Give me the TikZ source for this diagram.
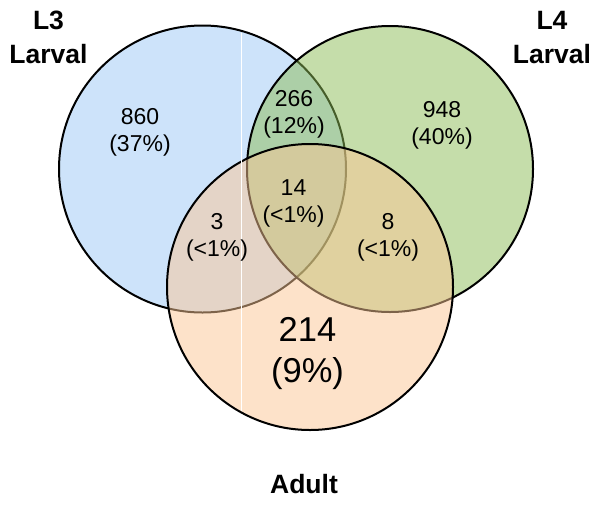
\documentclass[tikz,border=0pt]{standalone}
\usepackage{fontspec}
\setmainfont{Liberation Sans}
\definecolor{cblue}{RGB}{155,200,245}
\definecolor{cgreen}{RGB}{140,187,85}
\definecolor{corange}{RGB}{251,198,148}
\begin{document}
\begin{tikzpicture}[x=1pt,y=-1pt,
  venn/.style={line width=2pt, draw=black, fill opacity=0.5},
  num/.style={font=\fontsize{23}{27}\selectfont, align=center, inner sep=0pt},
  bignum/.style={font=\fontsize{34.5}{41}\selectfont, align=center, inner sep=0pt},
  lab/.style={font=\bfseries\fontsize{26.5}{34}\selectfont, align=center, inner sep=0pt},
  seam/.style={white, line width=0.9pt}]
\useasboundingbox (0,0) rectangle (602,504);
\coordinate (cB) at (202.5,169);
\coordinate (cG) at (390,169);
\coordinate (cO) at (310,287);
\draw[venn, fill=cblue] (cB) circle[radius=143.5pt];
\draw[venn, fill=cgreen] (cG) circle[radius=143pt];
\draw[venn, fill=corange] (cO) circle[radius=143pt];
\coordinate (seamtop) at (241,32.5);
\coordinate (seambot) at (241,411);
\draw[seam] (seamtop) -- (seambot);
\node[num] (n860) at (140,132.4) {860\\(37\%)};
\node[num] (n266) at (294,113.9) {266\\(12\%)};
\node[num] (n948) at (442,124.9) {948\\(40\%)};
\node[num] (n14) at (293.5,203.4) {14\\(<1\%)};
\node[num] (n3) at (217,237.4) {3\\(<1\%)};
\node[num] (n8) at (388,237.4) {8\\(<1\%)};
\node[bignum] (n214) at (307.5,353.6) {214\\(9\%)};
\node[lab] (lL3) at (48.5,37) {L3\\Larval};
\node[lab] (lL4) at (552,37.5) {L4\\Larval};
\node[lab] (lAd) at (304,484) {Adult};
\end{tikzpicture}
\end{document}
